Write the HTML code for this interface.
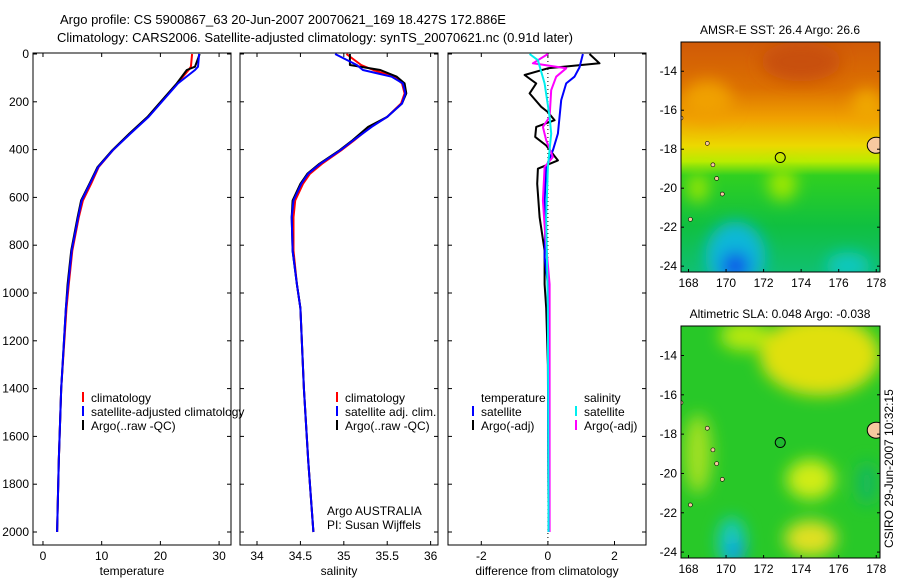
<!DOCTYPE html>
<html><head><meta charset="utf-8"><style>
body{margin:0;background:#fff;}
svg{display:block;font-family:"Liberation Sans",sans-serif;}
text{font-size:12px;fill:#000;}
</style></head><body>
<svg id="c" width="900" height="580">
<defs>
<linearGradient id="g1" x1="0" y1="0" x2="0" y2="1">
<stop offset="0" stop-color="#d05a08"/><stop offset="0.2" stop-color="#dc7000"/><stop offset="0.33" stop-color="#f0a000"/>
<stop offset="0.45" stop-color="#ecd800"/><stop offset="0.52" stop-color="#b8ec00"/><stop offset="0.58" stop-color="#30d020"/>
<stop offset="0.8" stop-color="#10c040"/><stop offset="1" stop-color="#10c070"/></linearGradient>
<filter id="bl"><feGaussianBlur stdDeviation="8"/></filter>
<clipPath id="cm1"><rect x="681" y="42" width="199" height="230"/></clipPath>
<clipPath id="cm2"><rect x="681" y="326" width="199" height="232"/></clipPath>
</defs>
<text x="60" y="24" style="font-size:13px">Argo profile: CS 5900867_63 20-Jun-2007 20070621_169 18.427S 172.886E</text>
<text x="57" y="42" style="font-size:13px">Climatology: CARS2006. Satellite-adjusted climatology: synTS_20070621.nc (0.91d later)</text>
<g id="plots"></g>
<g id="maps"></g>
<text transform="translate(893,548) rotate(-90)">CSIRO 29-Jun-2007 10:32:15</text>
</svg>
<script>
const depthTicks=[0,200,400,600,800,1000,1200,1400,1600,1800,2000];
// temperature profiles
const tDepth=[0,53,67,123,193,263,333,403,473,543,613,683,823,963,1063,1400,1700,2000];
const tClim=[25.4,25.2,24.8,22.9,20.4,17.9,14.8,11.9,9.5,8.2,6.8,6.1,5.0,4.4,4.0,3.1,2.7,2.4];
const tSat=[26.6,26.4,25.9,23.0,20.5,18.0,14.9,11.9,9.4,8.0,6.6,6.0,4.9,4.3,3.9,3.1,2.7,2.4];
const tArgo=[26.7,25.9,24.5,22.8,20.3,17.8,14.7,11.8,9.3,7.9,6.5,5.9,4.8,4.2,3.9,3.1,2.7,2.4];
const tTicks=[0,10,20,30];
// salinity profiles
const sDepth=[0,46,67,95,123,165,207,263,305,361,403,459,501,543,613,683,823,963,1063,1400,1700,2000];
const sClim=[35.03,35.2,35.34,35.58,35.67,35.70,35.66,35.50,35.31,35.12,34.97,34.75,34.61,34.53,34.44,34.42,34.42,34.46,34.5,34.54,34.59,34.65];
const sSat=[34.90,35.15,35.22,35.55,35.68,35.71,35.67,35.50,35.32,35.11,34.96,34.73,34.59,34.51,34.42,34.40,34.41,34.46,34.5,34.54,34.59,34.65];
const sArgo=[35.07,35.07,35.42,35.61,35.70,35.72,35.67,35.50,35.28,35.10,34.95,34.72,34.58,34.50,34.41,34.40,34.41,34.46,34.5,34.54,34.59,34.65];
const sTicks=[34,34.5,35,35.5,36];
// differences
const dTADepth=[0,39,60,88,123,165,221,243,277,305,347,383,445,480,543,683,823,963,1063,1300,2000];
const dTArgo=[1.25,1.55,0,-0.7,-0.35,-0.55,-0.2,0,0.2,-0.35,-0.38,-0.05,0.3,-0.3,-0.32,-0.25,-0.1,-0.1,-0.05,0,0.02];
const dTSDepth=[0,56,95,123,193,333,403,473,613,753,851,963,1200,2000];
const dTSat=[1.05,0.95,0.8,0.55,0.4,0.3,0.15,-0.05,-0.1,-0.08,-0.1,0,0,0.02];
const dSSDepth=[0,26,123,263,333,473,683,1063,2000];
const dSSat=[-0.55,-0.3,-0.1,0.05,0.1,0,-0.05,0,0.02];
const dSADepth=[0,39,60,95,151,263,305,361,431,473,613,753,963,1063,2000];
const dSArgo=[0,-0.45,0.55,0.25,0.1,0.05,-0.15,-0.05,0.15,-0.1,-0.15,-0.08,0.05,0.05,0.05];
const dTicks=[-2,0,2];
// maps
const latTicks=[-14,-16,-18,-20,-22,-24];
const lonTicks=[168,170,172,174,176,178];
const argoPos=[172.886,-18.427];

const NS='http://www.w3.org/2000/svg';
function mk(tag,at,parent){const e=document.createElementNS(NS,tag);for(const k in at)e.setAttribute(k,at[k]);parent.appendChild(e);return e;}
const P=document.getElementById('plots');
const TOP=53,BOT=545;
const yD=d=>54+d*0.239;
const panels=[
 {x0:33,w:198,lo:-1.7,hi:32.03,ticks:tTicks,lab:'temperature',series:[[tDepth,tClim,'#f00'],[tDepth,tArgo,'#000'],[tDepth,tSat,'#00f']],name:'temperature'},
 {x0:240,w:198,lo:33.804,hi:36.085,ticks:sTicks,lab:'salinity',series:[[sDepth,sClim,'#f00'],[sDepth,sArgo,'#000'],[sDepth,sSat,'#00f']],name:'salinity'},
 {x0:448,w:198,lo:-3.0,hi:2.946,ticks:dTicks,lab:'difference from climatology',series:[[dTADepth,dTArgo,'#000'],[dTSDepth,dTSat,'#00f'],[dSADepth,dSArgo,'#f0f'],[dSSDepth,dSSat,'#0ee']],name:'difference'}
];
panels.forEach((p,pi)=>{
 const g=mk('g',{},P);
 
 
 const xs=v=>p.x0+(v-p.lo)/(p.hi-p.lo)*p.w;
 mk('rect',{x:p.x0,y:TOP,width:p.w,height:BOT-TOP,fill:'none',stroke:'#000'},g);
 if(pi==2){mk('line',{x1:xs(0),x2:xs(0),y1:TOP,y2:BOT,stroke:'#000','stroke-dasharray':'1,3'},g);}
 p.ticks.forEach(t=>{const x=xs(t);mk('line',{x1:x,x2:x,y1:BOT,y2:BOT-4,stroke:'#000'},g);mk('line',{x1:x,x2:x,y1:TOP,y2:TOP+4,stroke:'#000'},g);
  const tx=mk('text',{x:x,y:560,'text-anchor':'middle'},g);tx.textContent=t;
  
  });
 const xl=mk('text',{x:p.x0+p.w/2,y:575,'text-anchor':'middle'},g);xl.textContent=p.lab;
 
 
 depthTicks.forEach(d=>{const y=yD(d);mk('line',{x1:p.x0,x2:p.x0+4,y1:y,y2:y,stroke:'#000'},g);mk('line',{x1:p.x0+p.w,x2:p.x0+p.w-4,y1:y,y2:y,stroke:'#000'},g);
  if(pi==0){const t=mk('text',{x:29,y:y+4,'text-anchor':'end'},g);t.textContent=d;
  
  }});
 p.series.forEach(s=>{const pts=s[0].map((d,i)=>xs(s[1][i]).toFixed(1)+','+yD(d).toFixed(1)).join(' ');
  const l=mk('polyline',{points:pts,fill:'none',stroke:s[2],'stroke-width':2,'stroke-linejoin':'round'},g);
  
  });
});
function legend(x,y,items){items.forEach((it,i)=>{const yy=y+i*14;
 if(it[1]){mk('line',{x1:x,x2:x,y1:yy-10,y2:yy,stroke:it[1],'stroke-width':2},P);}
 const t=mk('text',{x:x+8,y:yy},P);t.textContent=it[0];
 
 });}
legend(83,402,[['climatology','#f00'],['satellite-adjusted climatology','#00f'],['Argo(..raw -QC)','#000']]);
legend(337,402,[['climatology','#f00'],['satellite adj. clim.','#00f'],['Argo(..raw -QC)','#000']]);
legend(473,402,[['temperature',null],['satellite','#00f'],['Argo(-adj)','#000']]);
legend(576,402,[['salinity',null],['satellite','#0ee'],['Argo(-adj)','#f0f']]);
const a1=mk('text',{x:327,y:515},P);a1.textContent='Argo AUSTRALIA';


const a2=mk('text',{x:327,y:529},P);a2.textContent='PI: Susan Wijffels';


// maps
const M=document.getElementById('maps');
const maps=[{y0:42,h:230,title:'AMSR-E SST: 26.4 Argo: 26.6',name:'sst-map',clip:'cm1'},{y0:326,h:232,title:'Altimetric SLA: 0.048 Argo: -0.038',name:'sla-map',clip:'cm2'}];
maps.forEach((m,mi)=>{
 const g=mk('g',{},M);
 
 
 const lx=v=>681+(v-167.6)/(178.2-167.6)*199;
 const ly=v=>m.y0+(-12.5-v)/(24.3-12.5)*m.h;
 const cg=mk('g',{'clip-path':'url(#'+m.clip+')'},g);
 if(mi==0){
  mk('rect',{x:681,y:m.y0,width:199,height:m.h,fill:'url(#g1)'},cg);
  const b=mk('g',{filter:'url(#bl)'},cg);
  mk('ellipse',{cx:lx(169),cy:ly(-15.5),rx:25,ry:20,fill:'#f0a000'},b);
  mk('ellipse',{cx:lx(177.5),cy:ly(-15.8),rx:14,ry:18,fill:'#f0a800'},b);
  mk('ellipse',{cx:lx(174),cy:ly(-13.5),rx:40,ry:20,fill:'#c85008'},b);
  mk('ellipse',{cx:lx(170.5),cy:ly(-23.5),rx:30,ry:35,fill:'#10b8d8'},b);
  mk('ellipse',{cx:lx(170.5),cy:ly(-24),rx:14,ry:14,fill:'#1050e8'},b);
  mk('ellipse',{cx:lx(176.5),cy:ly(-24),rx:22,ry:14,fill:'#10c8c0'},b);
  mk('ellipse',{cx:lx(173),cy:ly(-19.8),rx:14,ry:16,fill:'#a0e800'},b);
  mk('ellipse',{cx:lx(168.5),cy:ly(-20),rx:10,ry:14,fill:'#a0e800'},b);
 } else {
  mk('rect',{x:681,y:m.y0,width:199,height:m.h,fill:'#28c828'},cg);
  const b=mk('g',{filter:'url(#bl)'},cg);
  mk('ellipse',{cx:lx(175),cy:ly(-14),rx:60,ry:40,fill:'#e0e010'},b);
  mk('ellipse',{cx:lx(171),cy:ly(-13),rx:25,ry:15,fill:'#b8e810'},b);
  mk('ellipse',{cx:lx(174.5),cy:ly(-20.3),rx:24,ry:20,fill:'#d0ec18'},b);
  mk('ellipse',{cx:lx(174.5),cy:ly(-23.3),rx:26,ry:18,fill:'#e0e020'},b);
  mk('ellipse',{cx:lx(168.5),cy:ly(-19),rx:14,ry:40,fill:'#a0e020'},b);
  mk('ellipse',{cx:lx(177.5),cy:ly(-20.5),rx:10,ry:22,fill:'#18b860'},b);
  mk('ellipse',{cx:lx(170.3),cy:ly(-23.5),rx:14,ry:25,fill:'#18c8c0'},b);
  mk('ellipse',{cx:lx(170.5),cy:ly(-24),rx:8,ry:10,fill:'#1090f0'},b);
 }
 mk('ellipse',{cx:lx(178.0),cy:ly(-17.8),rx:9,ry:8,fill:'#f8c8a0',stroke:'#000'},cg);
 [[169,-17.7],[169.3,-18.8],[169.5,-19.5],[168.1,-21.6],[169.8,-20.3],[167.6,-16.4]].forEach(q=>mk('ellipse',{cx:lx(q[0]),cy:ly(q[1]),rx:2,ry:2,fill:'#f8c8a0',stroke:'#000','stroke-width':0.6},cg));
 const c=mk('circle',{cx:lx(argoPos[0]),cy:ly(argoPos[1]),r:5,fill:mi==1?'#20b830':'none',stroke:'#000'},g);
 
 
 mk('rect',{x:681,y:m.y0,width:199,height:m.h,fill:'none',stroke:'#000'},g);
 const t=mk('text',{x:780,y:m.y0-8,'text-anchor':'middle'},g);t.textContent=m.title;
 
 
 latTicks.forEach(v=>{const y=ly(v);mk('line',{x1:681,x2:684,y1:y,y2:y,stroke:'#000'},g);mk('line',{x1:880,x2:877,y1:y,y2:y,stroke:'#000'},g);
  const tt=mk('text',{x:677,y:y+4,'text-anchor':'end'},g);tt.textContent=v;
  
  });
 lonTicks.forEach(v=>{const x=lx(v);mk('line',{x1:x,x2:x,y1:m.y0+m.h,y2:m.y0+m.h-3,stroke:'#000'},g);
  const tt=mk('text',{x:x,y:m.y0+m.h+15,'text-anchor':'middle'},g);tt.textContent=v;
  
  });
});
</script>
</body></html>
